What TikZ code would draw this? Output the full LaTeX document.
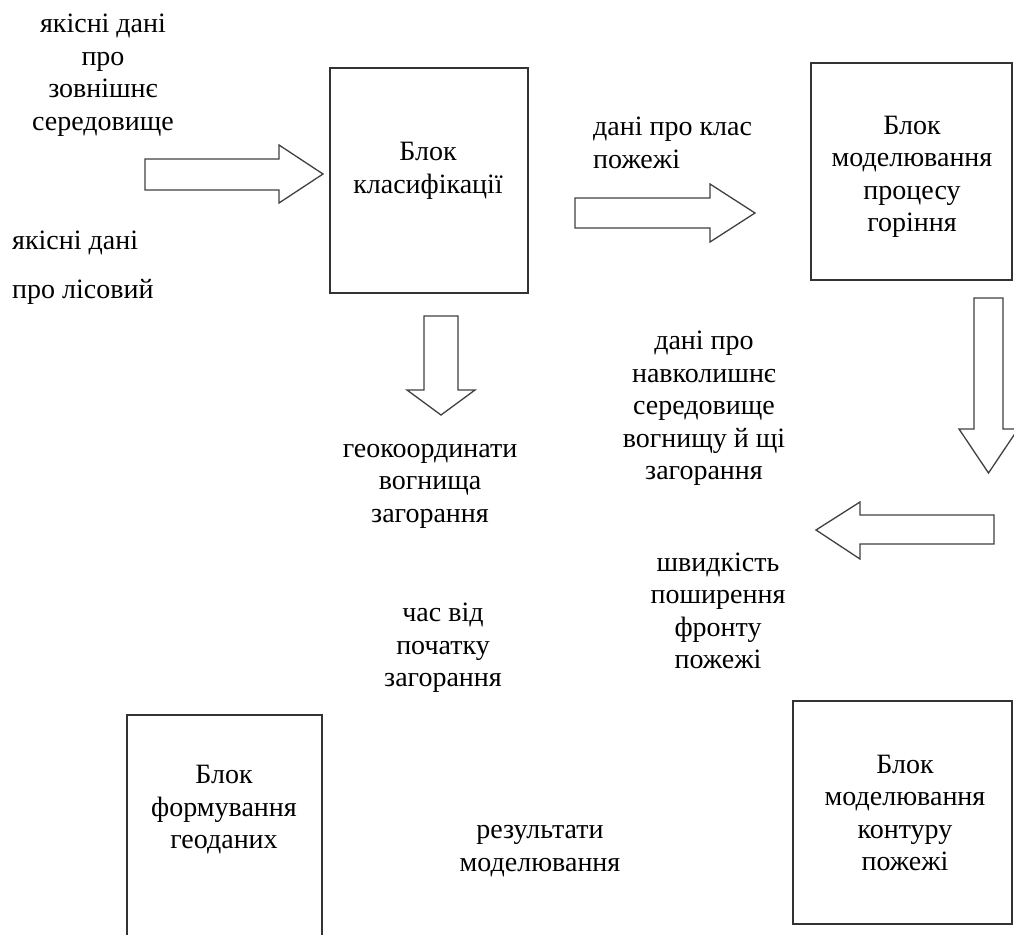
\documentclass[tikz,border=0pt]{standalone}
\usepackage{fontspec}
\setmainfont{Liberation Serif}
\tikzset{
  blok/.style={draw=black!80, line width=1.3pt, inner sep=0pt},
  napys/.style={align=center, inner sep=0pt, font=\fontsize{28}{32.5}\selectfont},
  strilka/.style={draw=black!75, line width=1.3pt, fill=white, line join=miter},
}
\begin{document}
\begin{tikzpicture}[x=1pt, y=-1pt]
\useasboundingbox (0,0) rectangle (1014,934);
\clip (0,0) rectangle (1014,934);

% блоки
\node[blok, minimum width=198pt, minimum height=225pt] (klas) at (429,180.5) {};
\node[blok, minimum width=201pt, minimum height=217pt] (horin) at (911.5,171.5) {};
\node[blok, minimum width=195pt, minimum height=245pt] (geod) at (224.5,837.5) {};
\node[blok, minimum width=219pt, minimum height=223pt] (kont) at (902.5,812.5) {};

% написи в блоках
\node[napys] (klasT) at (428,171) {Блок\\класифікації};
\node[napys] (horinT) at (912,177) {Блок\\моделювання\\процесу\\горіння};
\node[napys] (geodT) at (224,810) {Блок\\формування\\геоданих};
\node[napys] (kontT) at (905,813) {Блок\\моделювання\\контуру\\пожежі};

% написи біля стрілок
\node[napys] (zovn) at (103,75) {якісні дані\\про\\зовнішнє\\середовище};
\node[napys, align=left, anchor=west, font=\fontsize{28}{49}\selectfont] (lis) at (12,268) {якісні дані\\про лісовий};
\node[napys, align=left, anchor=west] (klasD) at (593,143) {дані про клас\\пожежі};
\node[napys] (geoK) at (430,486) {геокоординати\\вогнища\\загорання};
\node[napys] (navk) at (704,408.5) {дані про\\навколишнє\\середовище\\вогнищу й щі\\загорання};
\node[napys] (shvyd) at (718,611) {швидкість\\поширення\\фронту\\пожежі};
\node[napys] (chas) at (443,648) {час від\\початку\\загорання};
\node[napys] (rezul) at (540,851) {результати\\моделювання};

% стрілки
\draw[strilka] (145,159) -- (279,159) -- (279,145) -- (323,174) -- (279,203) -- (279,190) -- (145,190) -- cycle;
\draw[strilka] (575,198) -- (710,198) -- (710,184) -- (755,213) -- (710,242) -- (710,228) -- (575,228) -- cycle;
\draw[strilka] (424,316) -- (458,316) -- (458,390) -- (475,390) -- (441,415) -- (407,390) -- (424,390) -- cycle;
\draw[strilka] (974,298) -- (1003,298) -- (1003,429) -- (1018,429) -- (988.5,473) -- (959,429) -- (974,429) -- cycle;
\draw[strilka] (994,515) -- (860,515) -- (860,502) -- (816,530) -- (860,559) -- (860,544) -- (994,544) -- cycle;
\end{tikzpicture}
\end{document}
